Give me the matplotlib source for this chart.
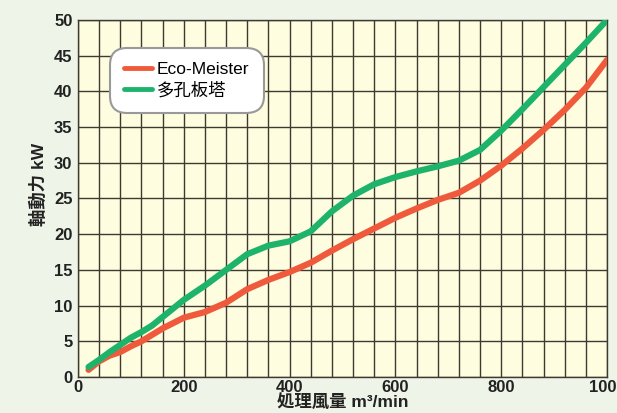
import matplotlib
matplotlib.use('Agg')
import matplotlib.pyplot as plt
from matplotlib.ticker import MultipleLocator

plt.rcParams['font.family'] = ['Liberation Sans', 'Noto Sans CJK JP', 'DejaVu Sans']

# values
airflow_eco = [20, 40, 60, 80, 100, 120, 160, 200, 240, 280, 320, 360, 400, 440,
               480, 520, 560, 600, 640, 680, 720, 760, 800, 840, 880, 920, 960, 1000]
power_eco = [1.0, 2.2, 3.0, 3.5, 4.3, 5.0, 6.8, 8.3, 9.1, 10.4, 12.3, 13.6, 14.7, 16.0,
             17.7, 19.3, 20.8, 22.3, 23.6, 24.8, 25.8, 27.5, 29.6, 32.0, 34.6, 37.4, 40.5, 44.4]

airflow_tower = [20, 40, 60, 80, 100, 120, 140, 160, 200, 240, 280, 320, 360, 400, 440,
                 480, 520, 560, 600, 640, 680, 720, 760, 800, 840, 880, 920, 960, 1000]
power_tower = [1.4, 2.4, 3.5, 4.5, 5.5, 6.3, 7.2, 8.4, 10.8, 12.8, 15.0, 17.2, 18.4, 19.0, 20.4,
               23.2, 25.4, 27.0, 28.0, 28.8, 29.5, 30.3, 31.8, 34.5, 37.5, 40.6, 43.7, 46.8, 50.0]

labels = ['Eco-Meister', '多孔板塔']
x_ticks = [0, 200, 400, 600, 800, 1000]
y_ticks = [0, 5, 10, 15, 20, 25, 30, 35, 40, 45, 50]

fig = plt.figure(figsize=(6.17, 4.13), dpi=100)
fig.patch.set_facecolor('#eef4e7')
ax = fig.add_axes([0.1264, 0.0872, 0.8574, 0.8644])
ax.set_facecolor('#fffde0')

ax.plot(airflow_eco, power_eco, color='#f05a3c', lw=4.5, solid_capstyle='round',
        solid_joinstyle='round', label=labels[0], zorder=3)
ax.plot(airflow_tower, power_tower, color='#1db36b', lw=4.5, solid_capstyle='round',
        solid_joinstyle='round', label=labels[1], zorder=3)

ax.set_xlim(0, 1000)
ax.set_ylim(0, 50)
ax.set_xticks(x_ticks)
ax.set_yticks(y_ticks)
ax.xaxis.set_minor_locator(MultipleLocator(40))
ax.grid(True, which='both', color='#3f3a30', lw=1.0, zorder=1)
ax.tick_params(which='both', length=0)
ax.tick_params(axis='x', pad=2)
ax.tick_params(axis='y', pad=4)
for lab in ax.get_xticklabels() + ax.get_yticklabels():
    lab.set_fontweight('bold')
    lab.set_fontsize(12)
    lab.set_color('#222222')
for s in ax.spines.values():
    s.set_color('#3f3a30')
    s.set_linewidth(1.0)

ax.set_xlabel('処理風量 m³/min', fontsize=12.5, fontweight='bold', color='#222222', labelpad=-1)
ax.set_ylabel('軸動力 kW', fontsize=12.5, fontweight='bold', color='#222222')
ax.yaxis.set_label_coords(-0.058, 0.54)

leg = ax.legend(loc='upper left', bbox_to_anchor=(0.055, 0.93), fontsize=12.5,
                handlelength=1.6, handletextpad=0.25, borderpad=0.5, labelspacing=0.25,
                fancybox=True, framealpha=1, facecolor='white', edgecolor='#999999')
leg.get_frame().set_linewidth(1.5)
leg.get_frame().set_boxstyle('round', pad=0.35, rounding_size=1.0)
for line in leg.get_lines():
    line.set_linewidth(3.5)

fig.savefig('out.png', dpi=100, facecolor=fig.get_facecolor())
